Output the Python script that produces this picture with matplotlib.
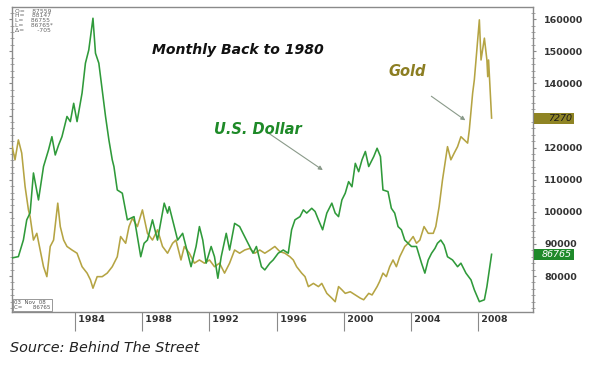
import matplotlib
matplotlib.use("Agg")
import matplotlib.pyplot as plt
from matplotlib.ticker import MultipleLocator
from matplotlib.patches import Rectangle

# ---------------- data ----------------
dollar_years = [1980.23, 1980.6, 1980.9, 1981.1, 1981.3, 1981.5, 1981.8, 1982.1, 1982.4, 1982.6,
                1982.8, 1983.0, 1983.2, 1983.5, 1983.7, 1983.9, 1984.1, 1984.4, 1984.6, 1984.8,
                1985.05, 1985.2, 1985.4, 1985.6, 1985.8, 1986.0, 1986.2, 1986.3, 1986.5, 1986.8,
                1987.1, 1987.5, 1987.9, 1988.1, 1988.3, 1988.6, 1988.9, 1989.3, 1989.5, 1989.6,
                1989.9, 1990.1, 1990.4, 1990.7, 1990.9, 1991.2, 1991.4, 1991.6, 1991.8, 1992.1,
                1992.3, 1992.5, 1992.7, 1993.0, 1993.2, 1993.5, 1993.8, 1994.0, 1994.3, 1994.6,
                1994.8, 1995.1, 1995.3, 1995.6, 1995.8, 1996.1, 1996.4, 1996.7, 1996.9, 1997.1,
                1997.4, 1997.6, 1997.8, 1998.1, 1998.3, 1998.5, 1998.75, 1999.0, 1999.3, 1999.5,
                1999.7, 1999.9, 2000.1, 2000.3, 2000.5, 2000.7, 2000.9, 2001.1, 2001.3, 2001.5,
                2001.8, 2002.0, 2002.2, 2002.35, 2002.65, 2002.85, 2003.05, 2003.25, 2003.45, 2003.65,
                2003.85, 2004.05, 2004.35, 2004.65, 2004.85, 2005.05, 2005.25, 2005.45, 2005.6, 2005.8,
                2006.0, 2006.2, 2006.5, 2006.8, 2007.0, 2007.3, 2007.6, 2007.8, 2008.1, 2008.4,
                2008.55, 2008.83]
dollar_values = [85640, 86040, 91240, 97500, 99650, 112100, 103700, 114100, 119300, 123400,
                 117700, 120800, 123400, 129700, 128100, 133800, 128100, 137000, 146300, 150400,
                 160300, 149400, 146300, 138000, 129700, 122400, 116200, 114100, 106800, 105800,
                 97500, 98500, 86000, 90200, 91200, 97500, 91200, 102700, 99600, 101600,
                 95400, 91200, 93300, 87100, 82900, 89200, 95400, 91200, 84000, 89200,
                 86000, 79300, 86000, 93300, 88100, 96400, 95400, 93300, 90200, 87100,
                 89200, 82900, 81900, 84000, 85000, 87100, 88100, 87100, 94400, 97500,
                 98500, 100600, 99600, 101100, 100100, 97500, 94400, 99600, 102700, 99600,
                 98500, 103700, 105800, 109400, 107800, 115100, 112500, 116200, 118800, 114100,
                 117200, 119800, 117200, 106800, 106300, 101100, 99600, 95400, 94400, 91200,
                 90200, 89200, 89200, 84000, 80900, 85000, 87100, 88600, 90200, 91200,
                 89600, 86000, 85000, 82900, 84000, 80900, 78800, 75700, 72000, 72600,
                 76700, 86765]

gold_years = [1980.23, 1980.4, 1980.6, 1980.8, 1981.0, 1981.2, 1981.3, 1981.5, 1981.7, 1981.9,
              1982.1, 1982.3, 1982.5, 1982.7, 1982.95, 1983.1, 1983.3, 1983.5, 1983.8, 1984.1,
              1984.4, 1984.7, 1984.9, 1985.05, 1985.3, 1985.6, 1985.9, 1986.2, 1986.5, 1986.7,
              1987.0, 1987.2, 1987.4, 1987.7, 1988.0, 1988.3, 1988.6, 1988.9, 1989.2, 1989.5,
              1989.8, 1990.0, 1990.3, 1990.5, 1990.8, 1991.1, 1991.4, 1991.7, 1992.0, 1992.3,
              1992.6, 1992.9, 1993.2, 1993.5, 1993.8, 1994.1, 1994.4, 1994.7, 1995.0, 1995.3,
              1995.6, 1995.9, 1996.2, 1996.5, 1996.8, 1997.0, 1997.2, 1997.5, 1997.7, 1997.9,
              1998.2, 1998.5, 1998.7, 1999.0, 1999.3, 1999.5, 1999.7, 1999.9, 2000.1, 2000.4,
              2000.7, 2001.0, 2001.2, 2001.5, 2001.7, 2002.0, 2002.15, 2002.35, 2002.55, 2002.75,
              2002.95, 2003.15, 2003.35, 2003.65, 2003.85, 2004.15, 2004.35, 2004.55, 2004.8, 2005.05,
              2005.35, 2005.5, 2005.7, 2005.9, 2006.2, 2006.4, 2006.6, 2006.8, 2007.0, 2007.2,
              2007.4, 2007.5, 2007.7, 2007.8, 2007.95, 2008.1, 2008.2, 2008.4, 2008.55, 2008.6,
              2008.65, 2008.83]
gold_values = [120300, 116200, 122400, 118300, 107900, 100600, 98500, 91200, 93300, 88100,
               82900, 79800, 89200, 91200, 102700, 95400, 91200, 89200, 88100, 87100,
               82900, 80900, 78800, 76200, 79800, 79800, 80900, 82900, 86000, 92300,
               90200, 95400, 98000, 95400, 100600, 93300, 91200, 94400, 89200, 87100,
               90200, 91200, 85000, 89200, 87100, 84000, 85000, 84000, 85000, 82900,
               84000, 80900, 84000, 88100, 87100, 88100, 88600, 87100, 88100, 87100,
               88100, 89200, 87600, 87100, 86000, 85000, 82900, 80900, 79800, 76700,
               77700, 76700, 77700, 74600, 73100, 72000, 76700, 75700, 74600, 75100,
               74100, 73100, 72600, 74600, 74100, 76700, 78300, 80900, 79800, 82900,
               85000, 82900, 86000, 89200, 90200, 92300, 90200, 91200, 95400, 93300,
               93300, 95400, 101600, 109900, 120300, 116200, 118300, 120300, 123400, 122400,
               121400, 125500, 137000, 141100, 150400, 159800, 147300, 154100, 147300, 142100,
               147300, 129200]

y_ticks = [80000, 90000, 100000, 110000, 120000, 130000, 140000, 150000, 160000]
y_tick_labels = ["80000", "90000", "100000", "110000", "120000", "", "140000", "150000", "160000"]
x_ticks = [1984, 1988, 1992, 1996, 2000, 2004, 2008]
x_tick_labels = ["1984", "1988", "1992", "1996", "2000", "2004", "2008"]

gold_last_label = "7270"
dollar_last_label = "86765"

# ---------------- figure ----------------
DOLLAR_C = "#2f9a3a"
GOLD_C = "#b5a443"
YMIN, YMAX = 68790, 163800

fig = plt.figure(figsize=(6.0, 3.67), dpi=100)
ax = fig.add_axes([12 / 600, 1 - 312 / 367, (533 - 12) / 600, (312 - 7) / 367])

ax.plot(gold_years, gold_values, color=GOLD_C, lw=1.15, zorder=3)
ax.plot(dollar_years, dollar_values, color=DOLLAR_C, lw=1.15, zorder=4)

ax.set_xlim(1980.22, 2011.3)
ax.set_ylim(YMIN, YMAX)

for s in ax.spines.values():
    s.set_color("#8a8a8a")
    s.set_linewidth(1.0)

# y axis on right
ax.yaxis.tick_right()
ax.set_yticks(y_ticks)
ax.set_yticklabels(y_tick_labels)
ax.yaxis.set_minor_locator(MultipleLocator(2000))
ax.tick_params(axis="y", which="major", direction="out", length=2, pad=6,
               labelsize=6.8, colors="#8a8a8a", labelcolor="#333333", left=True, right=True)
ax.tick_params(axis="y", which="minor", direction="inout", length=2.5, colors="#9a9a9a",
               left=True, right=True)
for lab in ax.get_yticklabels():
    lab.set_fontweight("bold")

# x axis
ax.set_xticks(x_ticks)
ax.set_xticklabels([" " + t for t in x_tick_labels])
ax.tick_params(axis="x", direction="out", length=14, pad=-12, labelsize=6.8,
               colors="#8a8a8a", labelcolor="#333333", width=0.8)
for lab in ax.get_xticklabels():
    lab.set_horizontalalignment("left")
    lab.set_fontweight("bold")

# right-hand value boxes (full-width bars at the last values)
def value_box(val, label, fc, tc):
    yfrac = (val - YMIN) / (YMAX - YMIN)
    y_fig = (1 - 312 / 367) + yfrac * (312 - 7) / 367
    h = 11 / 367
    fig.patches.append(Rectangle((534 / 600, y_fig - h / 2), 40 / 600, h,
                                 transform=fig.transFigure, fc=fc, ec="none", zorder=5))
    fig.text(572 / 600, y_fig, label, ha="right", va="center", fontsize=6.8,
             style="italic", color=tc, zorder=6)

value_box(gold_values[-1], gold_last_label, "#8f8424", "#1a1a1a")
value_box(dollar_values[-1], dollar_last_label, "#1f8a2a", "white")

# annotations
fig.text(238 / 600, 1 - 50 / 367, "Monthly Back to 1980", ha="center", va="center",
         fontsize=10.1, fontweight="bold", style="italic", color="#111111")
fig.text(258 / 600, 1 - 129 / 367, "U.S. Dollar", ha="center", va="center",
         fontsize=10.5, fontweight="bold", style="italic", color="#1e8a28")
fig.text(407 / 600, 1 - 72 / 367, "Gold", ha="center", va="center",
         fontsize=10.5, fontweight="bold", style="italic", color="#8c7e22")

ax.annotate("", xy=(1998.9, 112500), xytext=(1995.3, 125300),
            arrowprops=dict(arrowstyle="-|>", color="#8a9a8a", lw=0.8, mutation_scale=6))
ax.annotate("", xy=(2007.4, 128000), xytext=(2005.1, 136500),
            arrowprops=dict(arrowstyle="-|>", color="#8a9a8a", lw=0.8, mutation_scale=6))

# info box top-left
info = "O=    87559\nH=    88147\nL=    86755\nL=    86765*\nΔ=       -705"
ax.text(0.006, 0.995, info, transform=ax.transAxes, ha="left", va="top",
        fontsize=4.3, color="#666666", linespacing=0.95)
# bottom-left date box
ax.text(0.004, 0.006, "03  Nov  08\nC=      86765", transform=ax.transAxes, ha="left",
        va="bottom", fontsize=4.0, color="#555555", linespacing=0.95,
        bbox=dict(boxstyle="square,pad=0.2", fc="white", ec="#888888", lw=0.6))

fig.text(10 / 600, 1 - 348 / 367, "Source: Behind The Street", ha="left", va="center",
         fontsize=10.4, style="italic", color="#222222")

fig.savefig("out.png", dpi=100)
